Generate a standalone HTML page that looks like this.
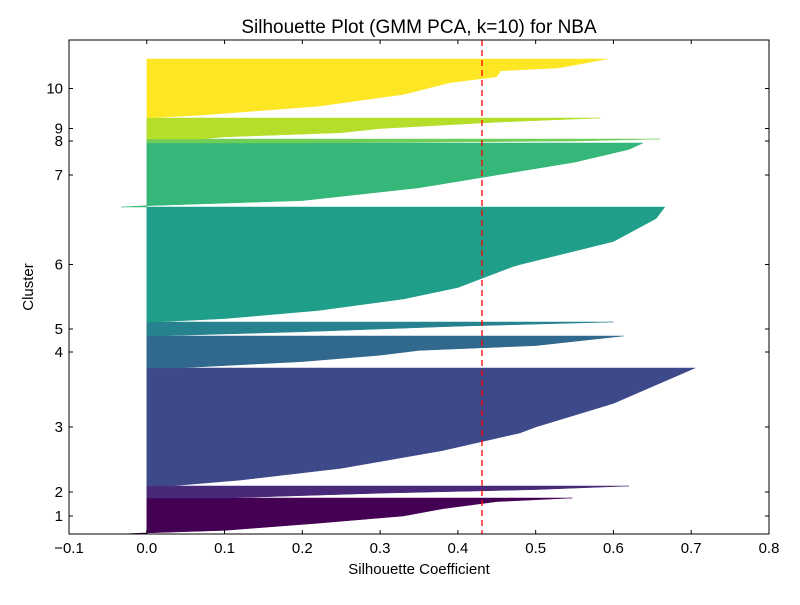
<!DOCTYPE html>
<html><head><meta charset="utf-8"><style>
body{margin:0;background:#fff;}
svg text{font-family:"Liberation Sans","DejaVu Sans",sans-serif;}
</style></head><body>
<svg id="chart" width="800" height="600" xmlns="http://www.w3.org/2000/svg">
<rect width="800" height="600" fill="#fff"/>
<text x="419" y="33" font-size="19" text-anchor="middle">Silhouette Plot (GMM PCA, k=10) for NBA</text>
<text x="419" y="574" font-size="15" text-anchor="middle">Silhouette Coefficient</text>
<text x="33" y="287" font-size="15" text-anchor="middle" transform="rotate(-90 33 287)">Cluster</text>
<g id="plot"></g>
</svg>
<script>
const clusterLabels = ["1","2","3","4","5","6","7","8","9","10"];
const clusterSizes = [36,12,118,32,14,115,64,4,21,59];
const clusterColors = ["#440154","#482878","#3e4989","#31688e","#26828e","#1f9e89","#35b779","#6ece58","#b5de2b","#fde725"];
const profile1 = [[0,0.547],[0.1,0.45],[0.3,0.38],[0.5,0.33],[0.7,0.22],[0.9,0.1],[0.97,0.0],[1,-0.033]];
const profile2 = [[0,0.62],[0.3,0.5],[0.6,0.3],[1,0.1]];
const profile3 = [[0,0.705],[0.1,0.67],[0.3,0.6],[0.5,0.5],[0.55,0.48],[0.7,0.38],[0.85,0.25],[0.95,0.12],[1,0.03]];
const profile4 = [[0,0.613],[0.3,0.5],[0.45,0.35],[0.6,0.3],[0.8,0.2],[1,0.04]];
const profile5 = [[0,0.6],[0.3,0.4],[0.7,0.2],[1,0.01]];
const profile6 = [[0,0.666],[0.1,0.655],[0.3,0.6],[0.5,0.48],[0.52,0.47],[0.7,0.4],[0.8,0.33],[0.9,0.22],[0.97,0.1],[1,0.01]];
const profile7 = [[0,0.638],[0.1,0.62],[0.3,0.55],[0.5,0.45],[0.7,0.35],[0.9,0.2],[0.98,0.0],[1,-0.033]];
const profile8 = [[0,0.66],[0.5,0.55],[1,0.2]];
const profile9 = [[0,0.583],[0.2,0.45],[0.5,0.3],[0.7,0.25],[0.9,0.1],[1,0.07]];
const profile10 = [[0,0.592],[0.15,0.53],[0.2,0.455],[0.3,0.45],[0.4,0.39],[0.6,0.33],[0.8,0.22],[0.95,0.07],[1,0]];
const profiles = [profile1,profile2,profile3,profile4,profile5,profile6,profile7,profile8,profile9,profile10];
const avgScore = 0.431;
const xTicks = [-0.1,0,0.1,0.2,0.3,0.4,0.5,0.6,0.7,0.8];
const xTickLabels = ["\u22120.1","0.0","0.1","0.2","0.3","0.4","0.5","0.6","0.7","0.8"];
const yMax = 494;

const L=69,R=769,T=40,B=534;
const X = v => L + (v - (-0.1)) / 0.9 * (R-L);
const Y = v => B - v / yMax * (B-T);
const NS="http://www.w3.org/2000/svg";
const g=document.getElementById('plot');
function mk(t,a){const e=document.createElementNS(NS,t);for(const k in a)e.setAttribute(k,a[k]);g.appendChild(e);return e;}

let yl=0;
const mids=[];
for(let i=0;i<clusterSizes.length;i++){
  const top=yl+clusterSizes[i];
  const pts=[[X(0),Y(top)]];
  profiles[i].forEach(p=>{pts.push([X(p[1]),Y(top-p[0]*clusterSizes[i])]);});
  pts.push([X(0),Y(yl)]);
  const e=mk('polygon',{points:pts.map(p=>p[0].toFixed(1)+','+p[1].toFixed(1)).join(' '),fill:clusterColors[i],stroke:clusterColors[i],'stroke-width':0.5});
  
  
  mids.push((yl+top)/2);
  yl=top;
}
const ln=mk('line',{x1:X(avgScore),x2:X(avgScore),y1:T,y2:B,stroke:'#f00','stroke-width':1.3,'stroke-dasharray':'6,4'});



const fr=mk('rect',{x:L,y:T,width:R-L,height:B-T,fill:'none',stroke:'#000','stroke-width':1});



xTicks.forEach((v,i)=>{
  const x=X(v);
  mk('line',{x1:x,x2:x,y1:B,y2:B-4,stroke:'#000'});
  mk('line',{x1:x,x2:x,y1:T,y2:T+4,stroke:'#000'});
  const t=mk('text',{x:x,y:B+19,'font-size':15,'text-anchor':'middle'});
  t.textContent=xTickLabels[i];
  
  
});
mids.forEach((m,i)=>{
  const y=Y(m);
  mk('line',{x1:L,x2:L+4,y1:y,y2:y,stroke:'#000'});
  mk('line',{x1:R,x2:R-4,y1:y,y2:y,stroke:'#000'});
  const t=mk('text',{x:L-6,y:y+5,'font-size':15,'text-anchor':'end'});
  t.textContent=clusterLabels[i];
  
  
});
</script>
</body></html>
